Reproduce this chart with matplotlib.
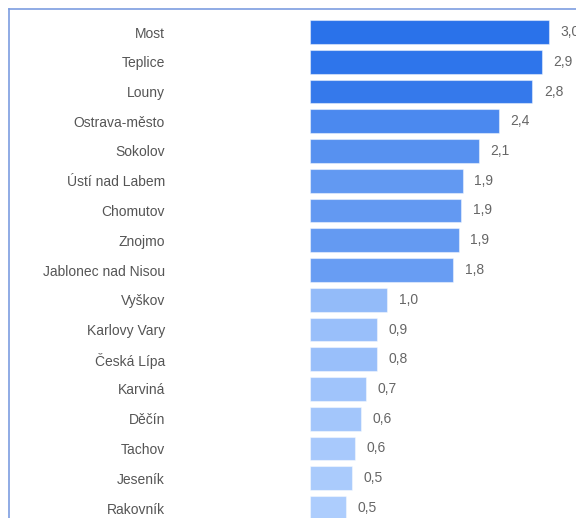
import matplotlib
matplotlib.use("Agg")
import matplotlib.pyplot as plt
from matplotlib.colors import LinearSegmentedColormap, Normalize
from matplotlib.lines import Line2D

categories = ["Most", "Teplice", "Louny", "Ostrava-město", "Sokolov", "Ústí nad Labem",
              "Chomutov", "Znojmo", "Jablonec nad Nisou", "Vyškov", "Karlovy Vary",
              "Česká Lípa", "Karviná", "Děčín", "Tachov", "Jeseník", "Rakovník"]
values = [3.0, 2.91, 2.79, 2.37, 2.12, 1.92, 1.9, 1.87, 1.8, 0.97, 0.85, 0.845,
          0.71, 0.645, 0.57, 0.53, 0.46]
value_labels = ["3,0", "2,9", "2,8", "2,4", "2,1", "1,9", "1,9", "1,9", "1,8", "1,0",
                "0,9", "0,8", "0,7", "0,6", "0,6", "0,5", "0,5"]

plt.rcParams['font.family'] = ['Liberation Sans', 'DejaVu Sans']

W, H = 576, 518
fig = plt.figure(figsize=(W / 100, H / 100), dpi=100)

x0 = 309.5
px_per_unit = 79.9
top_px, bot_px = 9, 518
ax = fig.add_axes([x0 / W, 0, (W - x0) / W, (bot_px - top_px) / H])
ax.set_xlim(0, (W - x0) / px_per_unit)
row0, step = 32, 29.75
ax.set_ylim((bot_px - row0) / step, (top_px - row0) / step)

cmap = LinearSegmentedColormap.from_list("b", ["#b0cffd", "#2a72ea"])
norm = Normalize(0.4, 3.0)
ys = list(range(len(categories)))
colors = [cmap(norm(v)) for v in values]
ax.barh(ys, values, height=0.8, color=colors, edgecolor=(1, 1, 1, 0.45), linewidth=0.8)

for y, v, lab in zip(ys, values, value_labels):
    ax.text(v, y, lab, ha="left", va="center", fontsize=10, color="#666666",
            transform=ax.transData, clip_on=False)
    # offset via annotation-like shift
for t in ax.texts:
    t.set_x(t.get_position()[0] + 11.5 / px_per_unit)

ax.set_yticks(ys)
ax.set_yticklabels(categories, fontsize=10, color="#555555")
ax.tick_params(axis="y", length=0, pad=(x0 - 165) * 0.72)
ax.set_xticks([])
for s in ax.spines.values():
    s.set_visible(False)

frame_color = "#7d9de0"
fig.add_artist(Line2D([9 / W, 1], [1 - 9 / H, 1 - 9 / H], color=frame_color, lw=1.2,
                      transform=fig.transFigure))
fig.add_artist(Line2D([9 / W, 9 / W], [0, 1 - 9 / H], color=frame_color, lw=1.2,
                      transform=fig.transFigure))

fig.savefig("out.png", dpi=100)
